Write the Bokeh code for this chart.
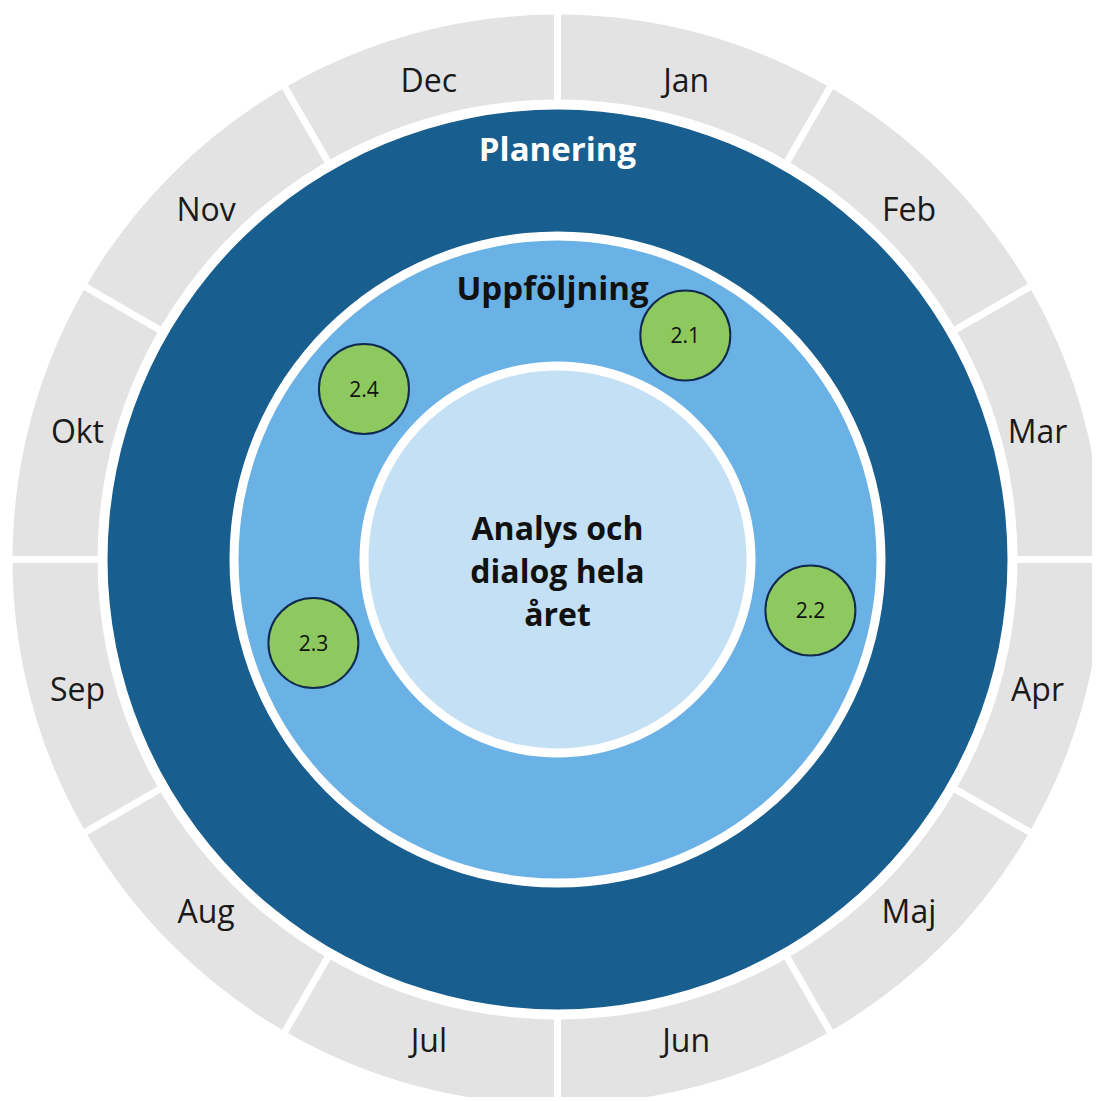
import numpy as np
from bokeh.plotting import figure
from bokeh.models import Range1d, ColumnDataSource
from bokeh.core.properties import value
from bokeh.embed import file_html
from bokeh.resources import INLINE

# ---- data ----
months = ["Jan", "Feb", "Mar", "Apr", "Maj", "Jun", "Jul", "Aug", "Sep", "Okt", "Nov", "Dec"]
ring_names = ["Planering", "Uppföljning"]
center_lines = ["Analys och", "dialog hela", "året"]
markers = ["2.1", "2.2", "2.3", "2.4"]
marker_month_pos = [0.99, 3.38, 8.37, 10.38]   # position along year, in months from 1 Jan

# ---- geometry (styling) ----
CX_PX, CY_PX = 557, 559
OFF = 0
R_OUT, R_MONTH_IN = 545, 460
R_DARK_OUT, R_DARK_IN = 450, 328
R_MID_OUT, R_MID_IN = 319, 198
R_LIGHT = 189
R_LABEL = 497
R_MARK = 258
MARK_R = 45

GRAY = "#e3e3e3"
DARK = "#185e8f"
MID = "#6ab1e5"
LIGHT = "#c3e0f4"
GREEN = "#8dc95e"
NAVY = "#0f2a4e"
FONT = "Open Sans"

W, H = 1092, 1097
p = figure(width=W, height=H, output_backend="svg", toolbar_location=None,
           x_range=Range1d(OFF - CX_PX, OFF + W - CX_PX),
           y_range=Range1d(CY_PX - (OFF + H), CY_PX - OFF),
           min_border=0, outline_line_color=None)
p.axis.visible = False
p.grid.visible = False
p.background_fill_color = "white"
p.border_fill_color = "white"

def ang(m):
    # month position (clockwise from top) -> bokeh angle (radians, ccw from +x)
    return np.deg2rad(90.0 - 30.0 * np.asarray(m, dtype=float))

n = len(months)
idx = np.arange(n)
msrc = ColumnDataSource(dict(
    x=[0] * n, y=[0] * n,
    start=ang(idx + 1), end=ang(idx),
    lx=R_LABEL * np.cos(ang(idx + 0.5)), ly=R_LABEL * np.sin(ang(idx + 0.5)),
    label=months,
))
p.annular_wedge(x="x", y="y", inner_radius=R_MONTH_IN - 6, outer_radius=R_OUT,
                start_angle="start", end_angle="end", fill_color=GRAY, line_color=None,
                source=msrc)
# white separators between months
b = ang(idx)
p.segment(x0=(R_MONTH_IN - 10) * np.cos(b), y0=(R_MONTH_IN - 10) * np.sin(b),
          x1=(R_OUT + 10) * np.cos(b), y1=(R_OUT + 10) * np.sin(b),
          line_color="white", line_width=7)
p.text(x="lx", y="ly", text="label", source=msrc, text_font=value(FONT),
       text_font_size="32px", text_color="#1a1a1a", text_align="center",
       text_baseline="middle")

# white gap + rings
p.circle(x=[0], y=[0], radius=R_MONTH_IN, fill_color="white", line_color=None)
p.annulus(x=[0], y=[0], inner_radius=R_DARK_IN, outer_radius=R_DARK_OUT,
          fill_color=DARK, line_color=None)
p.annulus(x=[0], y=[0], inner_radius=R_MID_IN, outer_radius=R_MID_OUT,
          fill_color=MID, line_color=None)
p.circle(x=[0], y=[0], radius=R_LIGHT, fill_color=LIGHT, line_color=None)

# ring titles
p.text(x=[0], y=[(R_DARK_OUT + R_DARK_IN) / 2 + 22], text=[ring_names[0]],
       text_font=value(FONT), text_font_size="33px", text_font_style="bold",
       text_color="white", text_align="center", text_baseline="middle")
p.text(x=[-5], y=[(R_MID_OUT + R_MID_IN) / 2 + 14], text=[ring_names[1]],
       text_font=value(FONT), text_font_size="33px", text_font_style="bold",
       text_color="#111111", text_align="center", text_baseline="middle")

# center text
cl = len(center_lines)
p.text(x=[0] * cl, y=[32 - 43 * i for i in range(cl)], text=center_lines,
       text_font=value(FONT), text_font_size="32px", text_font_style="bold",
       text_color="#111111", text_align="center", text_baseline="middle")

# green markers
ma = ang(marker_month_pos)
gsrc = ColumnDataSource(dict(x=R_MARK * np.cos(ma), y=R_MARK * np.sin(ma), t=markers))
p.circle(x="x", y="y", radius=MARK_R, source=gsrc, fill_color=GREEN,
         line_color=NAVY, line_width=2)
p.text(x="x", y="y", text="t", source=gsrc, text_font=value(FONT),
       text_font_size="21px", text_color="#111111", text_align="center",
       text_baseline="middle")

open("out.html", "w").write(file_html(p, INLINE))
